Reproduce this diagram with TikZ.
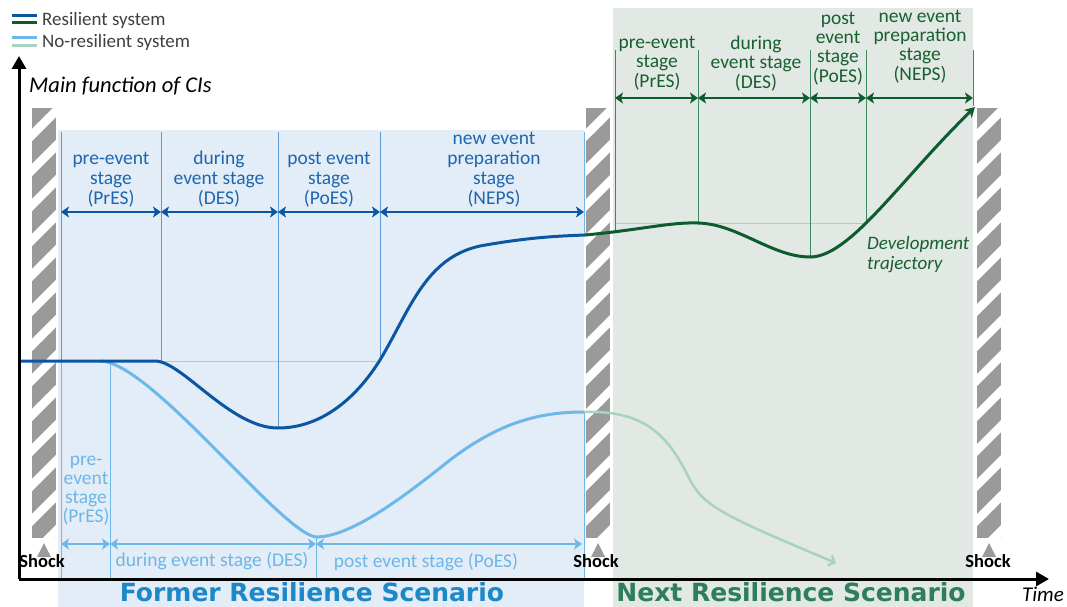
\documentclass[tikz,border=0pt]{standalone}
\usepackage{fontspec}
\setmainfont{Carlito}
\newfontfamily\titlefont{DejaVu Sans}
\usetikzlibrary{arrows.meta}
\definecolor{blueregion}{HTML}{E3EDF7}
\definecolor{greenregion}{HTML}{E2E8E4}
\definecolor{dblue}{HTML}{0B56A3}
\definecolor{dbluetext}{HTML}{1E66AE}
\definecolor{mblue}{HTML}{5B9BD5}
\definecolor{lblue}{HTML}{6DB8E8}
\definecolor{lbluetext}{HTML}{6DB6E6}
\definecolor{dgreen}{HTML}{0D5C2E}
\definecolor{dgreentext}{HTML}{17602F}
\definecolor{mgreen}{HTML}{3C8A5C}
\definecolor{lgreen}{HTML}{A8D3BF}
\definecolor{pgray}{HTML}{9A9A9A}
\definecolor{refgray}{HTML}{C4C4C4}
\definecolor{titleblue}{HTML}{1C88C7}
\definecolor{titlegreen}{HTML}{2E7D5B}
\definecolor{legtext}{HTML}{404040}
\newcommand\hatchpillar[1]{%
  \begin{scope}
    \clip (#1,108) rectangle ++(24,430);
    \fill[pgray] (#1,108) rectangle ++(24,430);
    \foreach \k in {0,...,12}
      \draw[white, line width=8.5pt] (#1-6,135+6+35*\k) -- ++(36,-36);
  \end{scope}
  \fill[pgray] (#1+12,543) -- (#1+19,557) -- (#1+5,557) -- cycle;
}
\tikzset{
  lbl/.style={font=\fontsize{19.5}{20}\selectfont, align=center, inner sep=0pt, anchor=south},
  lblone/.style={font=\fontsize{19.5}{20}\selectfont, anchor=base, inner sep=0pt},
  dbarrow/.style={{Stealth[length=8pt,width=11pt,inset=2pt]}-{Stealth[length=8pt,width=11pt,inset=2pt]}, line width=2.5pt},
  bdiv/.style={draw=mblue, line width=0.9pt},
  ldiv/.style={draw=lblue, line width=0.9pt},
  gdiv/.style={draw=mgreen, line width=0.8pt},
  shocklbl/.style={font=\fontsize{18.5}{20}\selectfont\bfseries, anchor=base, inner sep=0pt},
  scentitle/.style={font=\titlefont\fontsize{25}{28}\selectfont\bfseries, anchor=base, inner sep=0pt},
  axisline/.style={line width=3pt, -{Triangle[length=13pt,width=14pt]}}
}
\begin{document}
\begin{tikzpicture}[x=1pt,y=-1pt]
\useasboundingbox (0,0) rectangle (1067,607);
% scenario regions
\fill[blueregion] (58,130) rectangle (584,607);
\fill[greenregion] (613,8) rectangle (973,607);
% reference levels
\draw[refgray, line width=0.9pt] (155,361) -- (380,361);
\draw[refgray, line width=0.9pt] (615,223) -- (866,223);
% dividers - resilient (blue)
\draw[bdiv] (61,132) -- (61,361);
\draw[bdiv] (161,132) -- (161,361);
\draw[bdiv] (278,132) -- (278,428);
\draw[bdiv] (380,132) -- (380,360);
\draw[ldiv] (584,132) -- (584,236);
% dividers - no-resilient (light blue)
\draw[ldiv] (61,361) -- (61,578);
\draw[ldiv] (110,361) -- (110,578);
\draw[ldiv] (316,537) -- (316,578);
\draw[ldiv] (584,412) -- (584,578);
% dividers - green
\draw[gdiv] (615,50) -- (615,232);
\draw[gdiv] (698,50) -- (698,223);
\draw[gdiv] (810,50) -- (810,257);
\draw[gdiv] (866,50) -- (866,222);
\draw[gdiv] (973,50) -- (973,106);
% shock pillars
\hatchpillar{32}
\hatchpillar{586}
\hatchpillar{977}
% coordinates of stage arrows
\coordinate (b0) at (61,212); \coordinate (b1) at (161,212); \coordinate (b2) at (278,212);
\coordinate (b3) at (380,212); \coordinate (b4) at (584,212);
\coordinate (l0) at (61,544); \coordinate (l1) at (110,544); \coordinate (l2) at (316,544);
\coordinate (l3) at (582,544);
\coordinate (g0) at (615,98); \coordinate (g1) at (698,98); \coordinate (g2) at (810,98);
\coordinate (g3) at (866,98); \coordinate (g4) at (973,98);
\draw[dbarrow, dblue] (b0) -- (b1);
\draw[dbarrow, dblue] (b1) -- (b2);
\draw[dbarrow, dblue] (b2) -- (b3);
\draw[dbarrow, dblue] (b3) -- (b4);
\draw[dbarrow, lblue] (l0) -- (l1);
\draw[dbarrow, lblue] (l1) -- (l2);
\draw[dbarrow, lblue] (l2) -- (l3);
\draw[dbarrow, dgreen] (g0) -- (g1);
\draw[dbarrow, dgreen] (g1) -- (g2);
\draw[dbarrow, dgreen] (g2) -- (g3);
\draw[dbarrow, dgreen] (g3) -- (g4);
% stage labels
\node[lbl, text=dbluetext] (bt1) at (111,207) {pre-event\\stage\\(PrES)};
\node[lbl, text=dbluetext] (bt2) at (219,207) {during\\event stage\\(DES)};
\node[lbl, text=dbluetext] (bt3) at (329,207) {post event\\stage\\(PoES)};
\node[lbl, text=dbluetext] (bt4) at (494,207) {new event\\preparation\\stage\\(NEPS)};
\node[lbl, text=lbluetext, font=\fontsize{19.5}{19}\selectfont] (lt1) at (86,525) {pre-\\event\\stage\\(PrES)};
\node[lblone, text=lbluetext] (lt2) at (212,566) {during event stage (DES)};
\node[lblone, text=lbluetext] (lt3) at (426,567) {post event stage (PoES)};
\node[lbl, text=dgreentext, font=\fontsize{19.5}{19.3}\selectfont] (gt1) at (657,90) {pre-event\\stage\\(PrES)};
\node[lbl, text=dgreentext, font=\fontsize{19.5}{19.3}\selectfont] (gt2) at (756,91) {during\\event stage\\(DES)};
\node[lbl, text=dgreentext, font=\fontsize{19.5}{19.3}\selectfont] (gt3) at (838,85) {post\\event\\stage\\(PoES)};
\node[lbl, text=dgreentext, font=\fontsize{19.5}{19.3}\selectfont] (gt4) at (920,83) {new event\\preparation\\stage\\(NEPS)};
% curve points
\coordinate (r0) at (19,361); \coordinate (r1) at (155,361); \coordinate (r2) at (278,428);
\coordinate (r3) at (380,360); \coordinate (r4) at (480,246); \coordinate (r5) at (585,235);
\coordinate (n0) at (100,361); \coordinate (n1) at (316,537); \coordinate (n2) at (450,460);
\coordinate (n3) at (584,412);
\coordinate (d1) at (698,223); \coordinate (d2) at (810,257); \coordinate (d3) at (975,107);
\coordinate (e1) at (688,476); \coordinate (e2) at (836,563);
% no-resilient curve
\draw[lblue, line width=3pt] (n0) .. controls (150,361) and (280,532) .. (n1)
  .. controls (350,537) and (400,500) .. (n2)
  .. controls (500,422) and (540,412) .. (n3);
\draw[lgreen, line width=2.5pt, -{Straight Barb[length=5pt,width=11pt]}] (n3) .. controls (645,410) and (668,436) .. (e1)
  .. controls (702,506) and (722,515) .. (e2);
% resilient curve
\draw[dblue, line width=3pt] (r0) -- (r1) .. controls (182,361) and (230,428) .. (r2)
  .. controls (320,428) and (355,400) .. (r3)
  .. controls (410,310) and (425,258) .. (r4)
  .. controls (530,237) and (560,236) .. (r5);
\draw[dgreen, line width=3pt, -{Stealth[length=10pt,width=11pt,inset=3pt]}] (r5) .. controls (640,230) and (670,222) .. (d1)
  .. controls (738,224) and (772,257) .. (d2)
  .. controls (850,257) and (900,180) .. (d3);
\node[font=\fontsize{19}{20}\selectfont\itshape, text=dgreentext, align=left, anchor=west, inner sep=0pt] (dev) at (867,255) {Development\\trajectory};
% axes
\coordinate (O) at (19,579); \coordinate (Ytip) at (19,56); \coordinate (Xtip) at (1049,579);
\draw[axisline] (O) -- (Ytip);
\draw[axisline] (O) -- (Xtip);
\node[font=\fontsize{22.5}{24}\selectfont\itshape, anchor=west, inner sep=0pt] (ylab) at (29,86) {Main function of CIs};
\node[font=\fontsize{21}{22}\selectfont\itshape, anchor=base, inner sep=0pt] (xlab) at (1043,601) {Time};
% shocks
\node[shocklbl] (s1) at (42,567) {Shock};
\node[shocklbl] (s2) at (596,567) {Shock};
\node[shocklbl] (s3) at (988,567) {Shock};
% scenario titles
\node[scentitle, text=titleblue] (former) at (312,601) {Former Resilience Scenario};
\node[scentitle, text=titlegreen] (next) at (791,601) {Next Resilience Scenario};
% legend
\draw[dblue, line width=3pt] (12,16) -- (37,16);
\draw[dgreen, line width=3pt] (12,23) -- (37,23);
\draw[lblue, line width=3pt] (12,38) -- (37,38);
\draw[lgreen, line width=3pt] (12,46) -- (37,46);
\node[font=\fontsize{19}{20}\selectfont, text=legtext, anchor=west, inner sep=0pt] (leg1) at (42,20) {Resilient system};
\node[font=\fontsize{19}{20}\selectfont, text=legtext, anchor=west, inner sep=0pt] (leg2) at (42,42) {No-resilient system};
\end{tikzpicture}
\end{document}
